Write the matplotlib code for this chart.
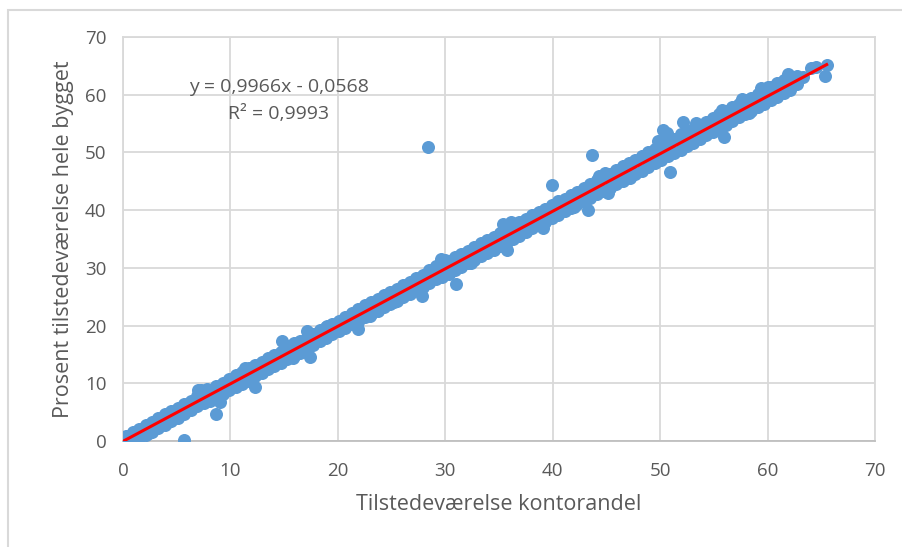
import matplotlib.pyplot as plt
import matplotlib.patches as mpatches

# hovedbåndet, øvre og nedre rad
band_x = [0.3, 0.9, 1.5, 2.1, 2.7, 3.3, 3.9, 4.5, 5.1, 5.7, 6.3, 6.9, 7.5, 8.1, 8.7, 9.3, 9.9,
          10.5, 11.1, 11.7, 12.3, 12.9, 13.5, 14.1, 14.7, 15.3, 15.9, 16.5, 17.1, 17.7, 18.3,
          18.9, 19.5, 20.1, 20.7, 21.3, 21.9, 22.5, 23.1, 23.7, 24.3, 24.9, 25.5, 26.1, 26.7,
          27.3, 27.9, 28.5, 29.1, 29.7, 30.3, 30.9, 31.5, 32.1, 32.7, 33.3, 33.9, 34.5, 35.1,
          35.7, 36.3, 36.9, 37.5, 38.1, 38.7, 39.3, 39.9, 40.5, 41.1, 41.7, 42.3, 42.9, 43.5,
          44.1, 44.7, 45.3, 45.9, 46.5, 47.1, 47.7, 48.3, 48.9, 49.5, 50.1, 50.7, 51.3, 51.9,
          52.5, 53.1, 53.7, 54.3, 54.9, 55.5, 56.1, 56.7, 57.3, 57.9, 58.5, 59.1, 59.7, 60.3,
          60.9, 61.5, 62.1, 62.7]
upper_y = [0.8, 1.5, 2.1, 2.7, 3.3, 4.0, 4.6, 5.2, 5.8, 6.4, 7.0, 7.8, 8.4, 8.8, 9.5, 10.1, 10.8,
           11.4, 12.0, 12.6, 13.1, 13.7, 14.4, 14.9, 15.5, 16.4, 17.0, 17.3, 17.9, 18.5, 19.2,
           19.8, 20.3, 20.8, 21.4, 22.1, 22.8, 23.5, 24.0, 24.6, 25.3, 25.8, 26.4, 27.0, 27.6,
           28.2, 28.8, 29.6, 30.3, 31.0, 31.2, 31.8, 32.4, 33.0, 33.6, 34.3, 34.8, 35.4, 36.0,
           36.8, 37.4, 37.9, 38.5, 39.1, 39.6, 40.2, 40.9, 41.5, 42.0, 42.7, 43.2, 43.9, 44.6,
           45.3, 45.9, 46.3, 46.9, 47.6, 48.2, 48.7, 49.4, 50.0, 50.6, 51.3, 51.8, 52.4, 53.2,
           53.6, 54.1, 54.8, 55.3, 56.0, 56.7, 57.2, 57.8, 58.4, 59.0, 59.5, 60.2, 60.8, 61.3,
           62.0, 62.6, 63.1, 63.2]
lower_y = [0.0, 0.2, 0.6, 1.0, 1.6, 2.2, 2.8, 3.5, 4.0, 4.6, 5.4, 6.0, 6.6, 7.0, 7.7, 8.2, 8.9,
           9.4, 9.9, 10.4, 11.2, 11.7, 12.4, 13.0, 13.5, 14.2, 14.8, 15.3, 15.9, 16.6, 17.3,
           17.8, 18.5, 19.1, 19.6, 20.2, 20.7, 21.4, 22.0, 22.5, 23.2, 23.8, 24.3, 25.0, 25.5,
           26.1, 26.6, 27.4, 28.0, 28.5, 29.0, 29.6, 30.2, 30.9, 31.4, 32.0, 32.6, 33.1, 33.8,
           34.5, 35.0, 35.6, 36.2, 36.9, 37.5, 38.0, 38.6, 39.2, 39.8, 40.4, 41.0, 41.6, 42.1,
           42.8, 43.3, 43.9, 44.5, 45.1, 45.7, 46.3, 46.8, 47.4, 48.1, 48.7, 49.3, 49.9, 50.5,
           51.1, 51.7, 52.4, 53.0, 53.5, 54.2, 54.8, 55.4, 56.1, 56.6, 57.2, 57.8, 58.4, 59.0,
           59.6, 60.3, 60.9, 61.8]

# enkeltpunkter og avvikere
extra_x = [0.0, 0.1, 0.2, 0.5, 1.2, 28.4, 5.7, 43.7, 39.9, 14.8, 17.1, 8.7, 9.0, 31.0, 52.1,
           50.9, 65.3, 64.5, 65.5, 17.4, 27.8, 35.7, 33.0, 46.3, 58.3, 12.3, 21.9, 24.5, 37.0,
           43.3, 45.1, 39.1, 55.9, 50.3, 61.9, 63.3, 64.0, 60.0, 55.8, 7.3, 3.0, 48.4, 54.7,
           7.0, 7.8, 29.6, 30.0, 35.4, 36.1, 44.3, 44.9, 49.8, 50.6, 53.3, 57.6, 59.4, 19.0,
           22.6, 26.4, 11.4, 4.2, 2.4, 15.8, 42.0, 47.2, 32.4, 25.2, 23.0]
extra_y = [0.0, 0.6, 0.1, 0.4, 0.8, 50.9, 0.2, 49.6, 44.4, 17.3, 19.1, 4.6, 6.8, 27.2, 55.3,
           46.6, 63.3, 64.8, 65.1, 14.6, 25.2, 33.1, 32.6, 45.2, 56.9, 9.4, 19.4, 24.2, 37.2,
           40.0, 43.0, 36.9, 52.7, 53.9, 63.6, 63.1, 64.6, 61.4, 57.3, 8.9, 2.5, 49.4, 55.5,
           8.8, 9.0, 31.6, 31.3, 37.6, 37.9, 46.0, 46.4, 51.9, 53.3, 55.1, 59.2, 61.1, 19.9,
           23.3, 26.9, 12.6, 3.3, 1.3, 14.4, 40.6, 45.6, 30.8, 24.0, 21.6]

# trendlinje fra Excel
slope = 0.9966
intercept = -0.0568
trend_x = [0.0, 65.5]

blue = '#5B9BD5'
grey = '#595959'
gridc = '#D9D9D9'

plt.rcParams['font.family'] = ['Open Sans', 'DejaVu Sans']

fig = plt.figure(figsize=(9.03, 5.47), dpi=100)
ax = fig.add_axes([123 / 903, 1 - 441 / 547, 752 / 903, 404 / 547])

ax.scatter(band_x, upper_y, s=88, color=blue, linewidths=0, zorder=3)
ax.scatter(band_x, lower_y, s=88, color=blue, linewidths=0, zorder=3)
ax.scatter(extra_x, extra_y, s=88, color=blue, linewidths=0, zorder=3)

trend_y = [slope * v + intercept for v in trend_x]
ax.plot(trend_x, trend_y, color='#FF0000', lw=2.2, zorder=4)

ax.set_xlim(0, 70)
ax.set_ylim(0, 70)
ax.set_xticks(range(0, 71, 10))
ax.set_yticks(range(0, 71, 10))
ax.grid(True, color=gridc, lw=1.3, zorder=0)
ax.set_axisbelow(True)
for sp in ax.spines.values():
    sp.set_color(gridc)
    sp.set_linewidth(1.3)
ax.spines['bottom'].set_color('#BFBFBF')
ax.tick_params(length=0, labelsize=13.5, labelcolor=grey)
ax.tick_params(axis='x', pad=15)
ax.tick_params(axis='y', pad=12)

ax.set_xlabel('Tilstedeværelse kontorandel', fontsize=15.5, color=grey, labelpad=10)
ax.set_ylabel('Prosent tilstedeværelse hele bygget', fontsize=15.5, color=grey, labelpad=8)

ax.text(14.5, 61.3, 'y = 0,9966x - 0,0568', fontsize=14, color=grey, ha='center', va='center')
ax.text(14.5, 56.6, 'R² = 0,9993', fontsize=14, color=grey, ha='center', va='center')

# ramme rundt diagrammet
fig.patches.append(mpatches.Rectangle((8 / 903, -0.1), 1.2, 1 - 10 / 547 + 0.1,
                                      transform=fig.transFigure, fill=False,
                                      edgecolor=gridc, lw=1.5))

fig.savefig('out.png', dpi=100)
